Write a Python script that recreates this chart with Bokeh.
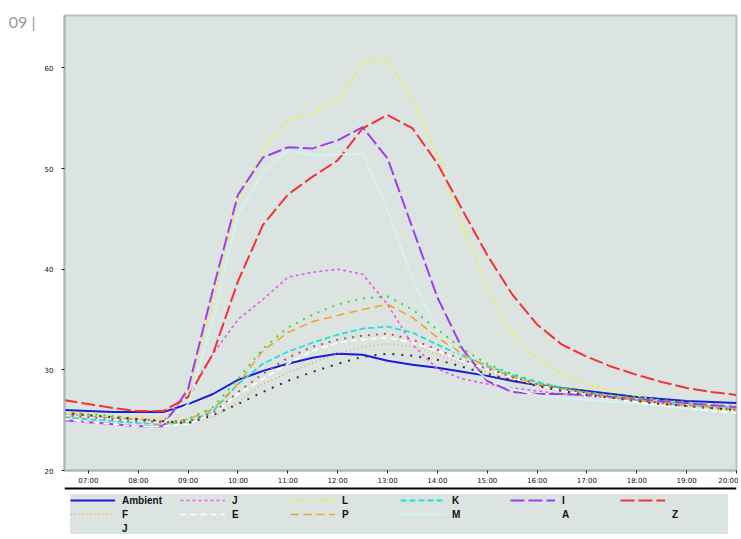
from bokeh.plotting import figure
from bokeh.models import FixedTicker, Legend, LegendItem, Span, Range1d, LinearAxis
from bokeh.layouts import column
from bokeh.embed import file_html
from bokeh.resources import INLINE

# ---- data -------------------------------------------------------------
hours = [6.5, 7, 7.5, 8, 8.5, 9, 9.5, 10, 10.5, 11, 11.5, 12, 12.5, 13,
         13.5, 14, 14.5, 15, 15.5, 16, 16.5, 17, 17.5, 18, 18.5, 19, 19.5, 20]

tick_hours = [7, 8, 9, 10, 11, 12, 13, 14, 15, 16, 17, 18, 19, 20]
tick_labels = ["07:00", "08:00", "09:00", "10:00", "11:00", "12:00", "13:00",
               "14:00", "15:00", "16:00", "17:00", "18:00", "19:00", "20:00"]
y_ticks = [20, 30, 40, 50, 60]
page_label = "09 |"

ambient = [26.0, 25.9, 25.8, 25.8, 25.8, 26.6, 27.6, 29.0, 29.9, 30.6, 31.2, 31.6, 31.5, 30.9,
           30.5, 30.2, 29.8, 29.4, 28.9, 28.5, 28.2, 27.9, 27.6, 27.3, 27.1, 26.9, 26.8, 26.7]
s_red = [27.0, 26.6, 26.2, 25.9, 25.9, 27.3, 31.6, 38.8, 44.4, 47.4, 49.2, 50.8, 54.0, 55.3,
         54.0, 50.5, 45.9, 41.4, 37.5, 34.5, 32.5, 31.3, 30.3, 29.5, 28.8, 28.2, 27.8, 27.5]
s_i = [25.0, 24.8, 24.6, 24.4, 24.4, 28.1, 38.0, 47.4, 51.1, 52.1, 52.0, 52.8, 54.1, 51.0,
       44.1, 37.2, 32.1, 28.9, 27.8, 27.6, 27.6, 27.5, 27.3, 27.1, 26.9, 26.7, 26.5, 26.3]
s_l = [25.8, 25.6, 25.4, 25.3, 25.1, 27.6, 37.0, 46.9, 51.8, 54.8, 55.5, 56.8, 60.5, 60.9,
       56.8, 51.3, 44.4, 38.0, 33.5, 31.1, 29.6, 28.6, 27.9, 27.4, 26.9, 26.5, 26.2, 26.0]
s_m = [25.5, 25.3, 25.1, 24.9, 24.7, 26.6, 35.0, 45.4, 49.6, 51.8, 51.3, 51.4, 51.5, 45.9,
       39.0, 34.0, 30.9, 29.1, 28.1, 27.5, 27.2, 27.0, 26.8, 26.6, 26.4, 26.2, 26.0, 25.9]
s_j = [25.6, 25.4, 25.2, 25.1, 24.9, 27.6, 31.6, 35.0, 37.0, 39.2, 39.7, 40.0, 39.5, 36.5,
       32.5, 30.1, 29.1, 28.6, 28.2, 27.9, 27.6, 27.4, 27.2, 27.0, 26.8, 26.6, 26.4, 26.3]
s_a = [25.8, 25.6, 25.4, 25.1, 24.7, 25.1, 26.3, 29.1, 32.1, 34.2, 35.5, 36.5, 37.1, 37.3,
       36.0, 34.0, 32.1, 30.6, 29.6, 28.8, 28.2, 27.8, 27.5, 27.2, 27.0, 26.8, 26.6, 26.4]
s_p = [25.4, 25.3, 25.1, 24.9, 24.6, 25.1, 26.1, 28.6, 31.9, 33.7, 34.8, 35.4, 36.0, 36.5,
       35.2, 33.2, 31.6, 30.3, 29.3, 28.6, 28.1, 27.7, 27.3, 27.0, 26.7, 26.5, 26.3, 26.1]
s_k = [25.3, 25.1, 24.9, 24.7, 24.6, 24.8, 25.9, 28.6, 30.6, 31.8, 32.7, 33.5, 34.1, 34.3,
       33.7, 32.5, 31.4, 30.4, 29.5, 28.8, 28.2, 27.7, 27.3, 27.0, 26.7, 26.5, 26.3, 26.1]
s_e = [25.1, 24.8, 24.6, 24.4, 24.4, 24.6, 25.6, 27.6, 29.1, 30.6, 31.9, 32.7, 33.0, 33.2,
       32.7, 31.9, 30.9, 30.0, 29.2, 28.5, 28.0, 27.5, 27.1, 26.8, 26.5, 26.2, 25.9, 25.7]
s_j2 = [25.5, 25.3, 25.1, 24.9, 24.8, 24.9, 25.7, 27.8, 29.6, 31.2, 32.3, 33.0, 33.4, 33.6,
        33.0, 32.0, 31.0, 30.1, 29.3, 28.6, 28.1, 27.7, 27.3, 27.0, 26.7, 26.4, 26.2, 26.0]
s_f = [25.6, 25.4, 25.2, 25.0, 24.8, 24.7, 25.3, 26.8, 28.6, 29.7, 30.7, 31.6, 32.3, 32.6,
       32.3, 31.5, 30.6, 29.8, 29.1, 28.5, 28.0, 27.6, 27.2, 26.9, 26.6, 26.3, 26.0, 25.8]
s_z = [25.7, 25.5, 25.3, 25.1, 24.9, 24.7, 25.5, 26.6, 27.8, 28.9, 29.8, 30.6, 31.3, 31.6,
       31.4, 31.0, 30.3, 29.6, 29.0, 28.4, 27.9, 27.5, 27.2, 26.9, 26.6, 26.4, 26.2, 26.0]

# label, data, color, dash, width, legend line shown
series = [
    ("Ambient", ambient, "#1c1cd8", "solid", 2.0, True),
    ("J", s_j, "#e45ce8", "3 3", 1.6, True),
    ("L", s_l, "#eef01c", "2 4", 2.0, True),
    ("K", s_k, "#22e0d4", "6 3", 1.8, True),
    ("I", s_i, "#a03cf0", "14 4", 2.0, True),
    (" ", s_red, "#f03434", "14 4", 2.0, True),
    ("F", s_f, "#f0a44a", "1 3", 1.5, True),
    ("E", s_e, "#ffffff", "6 4", 1.6, True),
    ("P", s_p, "#f0a030", "8 5", 1.6, True),
    ("M", s_m, "#d2f6f0", "solid", 1.5, True),
    ("A", s_a, "#2ee02e", "2 6", 2.0, False),
    ("Z", s_z, "#303030", "2 7", 2.0, False),
    ("J", s_j2, "#b05858", "2 6", 2.0, False),
]

BG = "#dce4e2"

# ---- main chart -------------------------------------------------------
W = 738
H = 487
TOP, BOT = 15, 15
frame_h = H - TOP - BOT

p = figure(width=W, height=H, output_backend="svg", toolbar_location=None,
           x_range=Range1d(6.52, 20.0), y_range=Range1d(20, 65.2),
           min_border_left=64, min_border_right=2, min_border_top=TOP,
           min_border_bottom=BOT)
p.background_fill_color = BG
p.border_fill_color = "white"
p.outline_line_color = "#b4c4c4"
p.outline_line_width = 2
p.grid.visible = False

for name, ys, col, dash, lw, _ in series:
    p.line(hours, ys, line_color=col, line_dash=dash, line_width=lw)

p.xaxis.ticker = FixedTicker(ticks=tick_hours)
p.xaxis.major_label_overrides = {h: t for h, t in zip(tick_hours, tick_labels)}
p.yaxis.ticker = FixedTicker(ticks=y_ticks)
for ax in (p.xaxis[0], p.yaxis[0]):
    ax.axis_line_color = "#a6baba"
    ax.axis_line_width = 2
    ax.major_tick_in = 0
    ax.major_tick_out = 3
    ax.major_tick_line_color = "#222222"
    ax.minor_tick_line_color = None
    ax.major_label_text_font = "DejaVu Sans"
    ax.major_label_text_font_size = "7px"
    ax.major_label_text_color = "#111111"
p.xaxis.major_label_standoff = 3
p.yaxis.major_label_standoff = 8

# page marker "09 |" in the top-left corner, as a label-only axis
p.extra_y_ranges = {"lbl": Range1d(0, frame_h)}
lbl_tick = frame_h - 6
ax2 = LinearAxis(y_range_name="lbl", ticker=FixedTicker(ticks=[lbl_tick]),
                 major_label_overrides={lbl_tick: page_label},
                 axis_line_color=None, major_tick_line_color=None,
                 minor_tick_line_color=None, major_tick_out=0, major_tick_in=0,
                 major_label_standoff=6,
                 major_label_text_font="Lato", major_label_text_font_size="16px",
                 major_label_text_color="#9a9a9a")
p.add_layout(ax2, "left")

# ---- legend strip -----------------------------------------------------
QH = 51
q = figure(width=W, height=QH, output_backend="svg", toolbar_location=None,
           x_range=Range1d(0, 1), y_range=Range1d(0, 1),
           min_border_left=64, min_border_right=2, min_border_top=0,
           min_border_bottom=0)
q.background_fill_color = "white"
q.border_fill_color = "white"
q.outline_line_color = None
q.axis.visible = False
q.grid.visible = False

items = []
for name, ys, col, dash, lw, vis in series:
    r = q.line([-10, -9], [-10, -10], line_color=col, line_dash=dash, line_width=lw,
               line_alpha=1.0 if vis else 0.0)
    items.append(LegendItem(label=name, renderers=[r]))

leg_h = 3 * 12 + 2 * 2 + 2 * 3
leg = Legend(items=items, orientation="horizontal", ncols=6,
             location=(6, QH - leg_h - 1),
             margin=0, padding=3, spacing=2, glyph_width=45, glyph_height=12,
             label_standoff=7, label_width=56, label_height=12,
             label_text_font="Liberation Sans", label_text_font_size="10px",
             label_text_color="#111111", background_fill_color=BG,
             background_fill_alpha=1.0, border_line_color=None)
leg.label_text_font_style = "bold"
q.add_layout(leg)
q.add_layout(Span(location=1, dimension="width", line_color="black", line_width=4))

layout = column(p, q, spacing=0)
open("out.html", "w").write(file_html(layout, INLINE))
